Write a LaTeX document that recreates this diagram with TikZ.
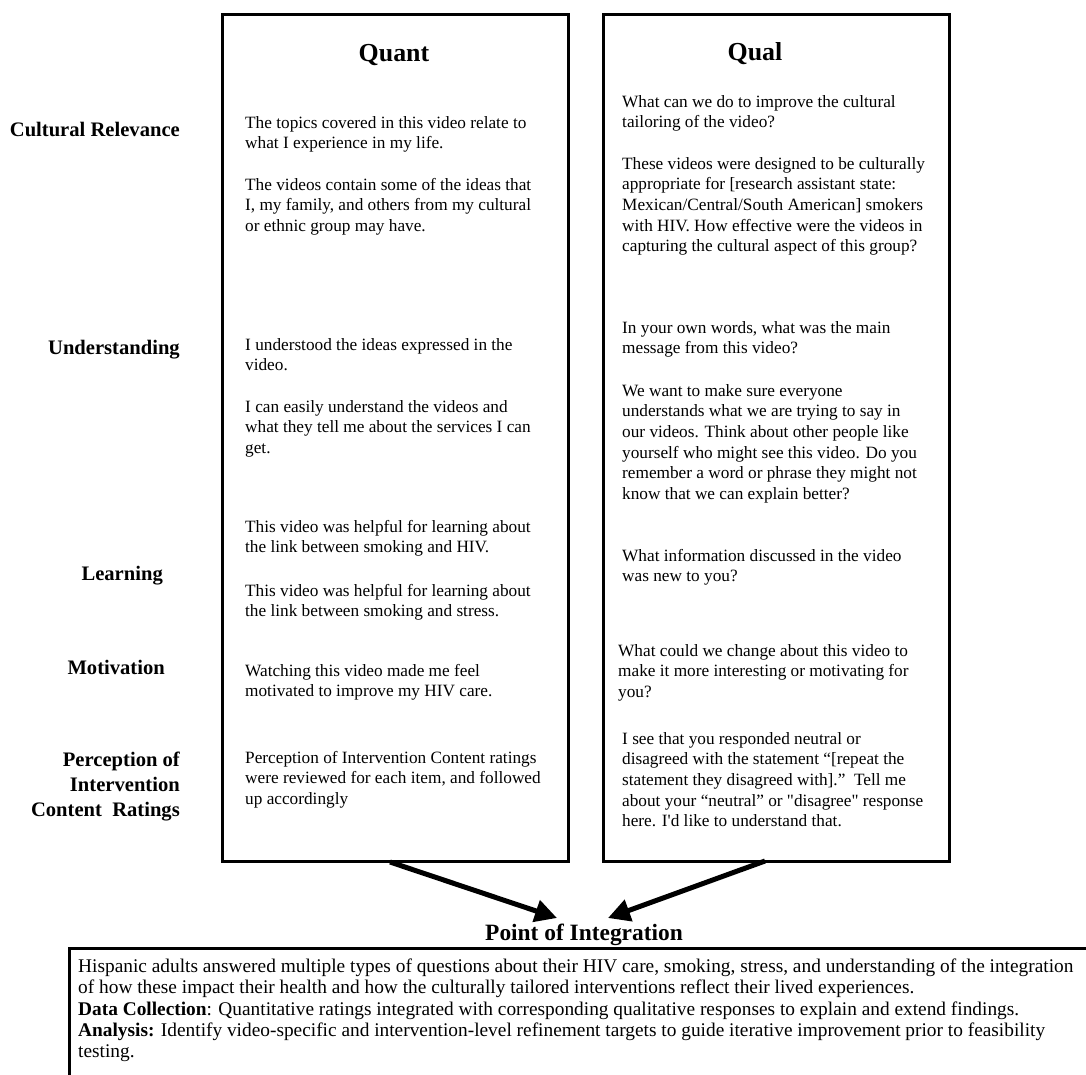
\documentclass[tikz,border=0pt]{standalone}
\usepackage{fontspec}
\setmainfont{Liberation Serif}
\usetikzlibrary{arrows.meta}
\tikzset{
 col/.style={draw, line width=3pt, anchor=north west, inner sep=0pt, minimum width=346pt, minimum height=847pt},
 body/.style={anchor=north west, inner sep=0pt, align=left, font=\fontsize{17.25}{20.7}\selectfont},
 sumtext/.style={anchor=north west, inner sep=0pt, align=left, font=\fontsize{19.35}{21.2}\selectfont},
 lab/.style={anchor=base east, inner sep=0pt, font=\bfseries\fontsize{20.6}{25}\selectfont},
 head/.style={anchor=base, inner sep=0pt, font=\bfseries\fontsize{25.9}{31}\selectfont},
 bigarrow/.style={line width=5pt, -{Triangle[length=22pt,width=22pt]}},
}
\begin{document}
\begin{tikzpicture}[x=1pt,y=-1pt]
\fill[white] (0,0) rectangle (1086,1075);
\useasboundingbox (0,0) rectangle (1086,1075);
\clip (0,0) rectangle (1086,1075);

% column boxes
\node[col] (quant) at (221,13) {};
\node[col] (qual) at (602,13) {};

% headings
\node[head] (quanth) at (394,62) {Quant};
\node[head] (qualh) at (755,61) {Qual};

% row labels
\node[lab] (lcult) at (180,137) {Cultural Relevance};
\node[lab] (lund) at (180,354) {Understanding};
\node[lab] (llearn) at (163,580) {Learning};
\node[lab] (lmot) at (165,674) {Motivation};
\node[lab, anchor=north east, align=right] (lperc) at (180,749) {\strut Perception of\\Intervention\\Content\ \ Ratings};

% Quant texts
\node[body] (q1) at (245,113.4) {\strut The topics covered in this video relate to\\what I experience in my life.};
\node[body] (q2) at (245,175.4) {\strut The videos contain some of the ideas that\\I, my family, and others from my cultural\\or ethnic group may have.};
\node[body] (q3) at (245,335.4) {\strut I understood the ideas expressed in the\\video.};
\node[body] (q4) at (245,397.4) {\strut I can easily understand the videos and\\what they tell me about the services I can\\get.};
\node[body] (q5) at (245,517.4) {\strut This video was helpful for learning about\\the link between smoking and HIV.};
\node[body] (q6) at (245,581.4) {\strut This video was helpful for learning about\\the link between smoking and stress.};
\node[body] (q7) at (245,661.4) {\strut Watching this video made me feel\\motivated to improve my HIV care.};
\node[body] (q8) at (245,748.4) {\strut Perception of Intervention Content ratings\\were reviewed for each item, and followed\\up accordingly};

% Qual texts
\node[body] (r1) at (622,92.4) {\strut What can we do to improve the cultural\\tailoring of the video?};
\node[body] (r2) at (622,154.4) {\strut These videos were designed to be culturally\\appropriate for [research assistant state:\\Mexican/Central/South American] smokers\\with HIV. How effective were the videos in\\capturing the cultural aspect of this group?};
\node[body] (r3) at (622,318.4) {\strut In your own words, what was the main\\message from this video?};
\node[body] (r4) at (622,381.4) {\strut We want to make sure everyone\\understands what we are trying to say in\\our videos. Think about other people like\\yourself who might see this video. Do you\\remember a word or phrase they might not\\know that we can explain better?};
\node[body] (r5) at (622,546.4) {\strut What information discussed in the video\\was new to you?};
\node[body] (r6) at (618,641.4) {\strut What could we change about this video to\\make it more interesting or motivating for\\you?};
\node[body] (r7) at (622,729.4) {\strut I see that you responded neutral or\\disagreed with the statement ``[repeat the\\statement they disagreed with].''\ \ Tell me\\about your ``neutral'' or \textquotedbl disagree\textquotedbl\ response\\here. I\textquotesingle d like to understand that.};

% integration
\node[head, font=\bfseries\fontsize{23.4}{28}\selectfont] (poi) at (584,940) {Point of Integration};
\coordinate (qs) at (390,862);
\coordinate (qe) at (557,918);
\coordinate (ls) at (765,861);
\coordinate (le) at (608,918);
\draw[bigarrow] (qs) -- (qe);
\draw[bigarrow] (ls) -- (le);

% bottom box
\draw[line width=3pt] (69,1100) -- (69,948) -- (1100,948);
\node[sumtext] (sum) at (78,957.6) {\strut Hispanic adults answered multiple types of questions about their HIV care, smoking, stress, and understanding of the integration\\of how these impact their health and how the culturally tailored interventions reflect their lived experiences.\\\textbf{Data Collection}: Quantitative ratings integrated with corresponding qualitative responses to explain and extend findings.\\\textbf{Analysis:} Identify video-specific and intervention-level refinement targets to guide iterative improvement prior to feasibility\\testing.};
\end{tikzpicture}
\end{document}
